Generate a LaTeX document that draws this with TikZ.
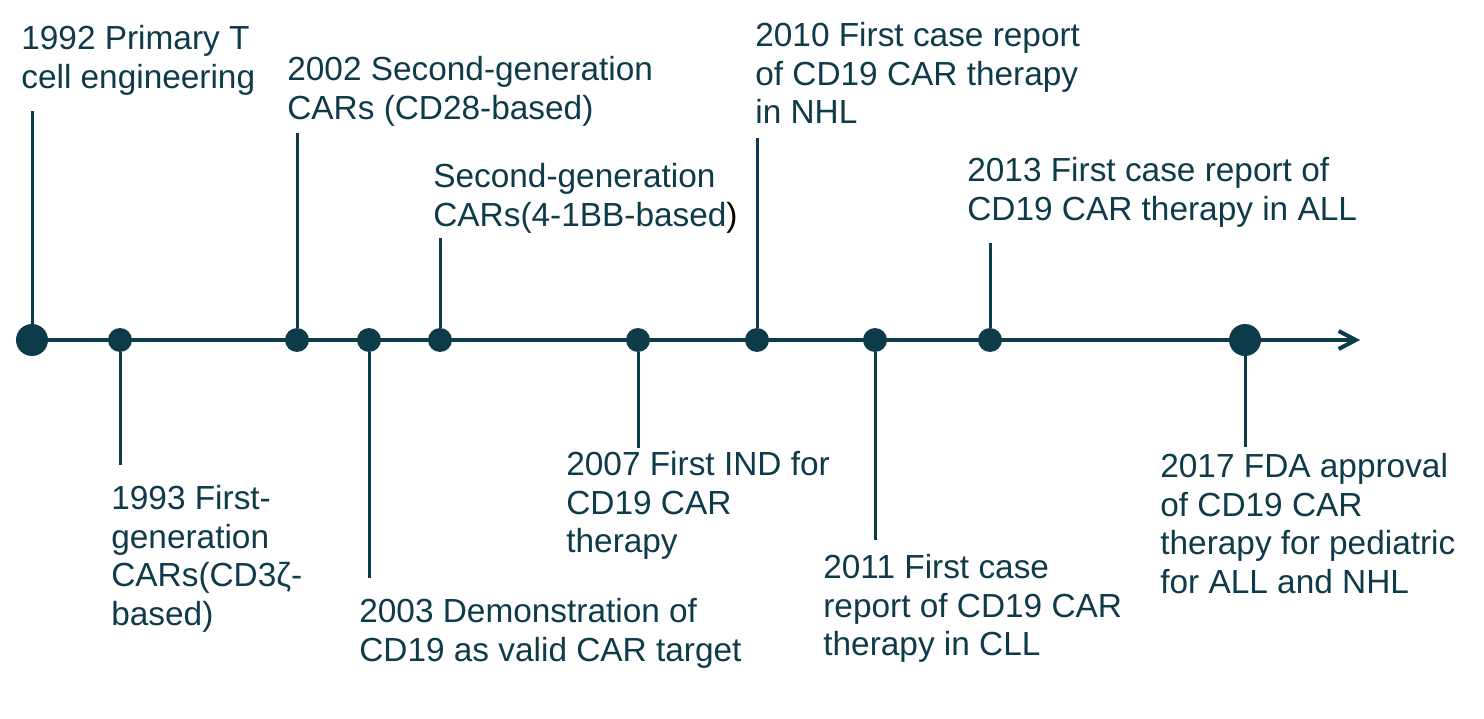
\documentclass[tikz,border=0pt]{standalone}
\usepackage{fontspec}
\setmainfont{Liberation Sans}
\usetikzlibrary{arrows.meta}
\definecolor{tealdark}{HTML}{0E3B4A}
\begin{document}
\begin{tikzpicture}[x=0.02cm,y=-0.02cm,
  dot/.style={circle,fill=tealdark,inner sep=0,minimum size=0.48cm},
  bigdot/.style={dot,minimum size=0.64cm},
  stem/.style={draw=tealdark,line width=0.06cm},
  lbl/.style={anchor=north west,inner sep=0,align=left,text=tealdark,
    font=\fontsize{19}{22}\selectfont}]
\useasboundingbox (0,0) rectangle (1484,719);
\coordinate (a0) at (18,340);
\coordinate (a1) at (1360,340);
\draw[stem,line width=0.08cm,-{Straight Barb[length=3.4mm,width=3.6mm]}] (a0) -- (a1);
% events on the axis
\node[bigdot] (d1) at (32,340) {};
\node[dot] (d2) at (120,340) {};
\node[dot] (d3) at (297,340) {};
\node[dot] (d4) at (369,340) {};
\node[dot] (d5) at (440,340) {};
\node[dot] (d6) at (638,340) {};
\node[dot] (d7) at (757,340) {};
\node[dot] (d8) at (875,340) {};
\node[dot] (d9) at (990,340) {};
\node[bigdot] (d10) at (1245,340) {};
% stems
\coordinate (s1) at (32,111);
\coordinate (s2) at (120,465);
\coordinate (s3) at (297,133);
\coordinate (s4) at (369,578);
\coordinate (s5) at (440,238);
\coordinate (s6) at (638,448);
\coordinate (s7) at (757,138);
\coordinate (s8) at (875,540);
\coordinate (s9) at (990,243);
\coordinate (s10) at (1245,447);
\draw[stem] (d1) -- (s1);
\draw[stem] (d2) -- (s2);
\draw[stem] (d3) -- (s3);
\draw[stem] (d4) -- (s4);
\draw[stem] (d5) -- (s5);
\draw[stem] (d6) -- (s6);
\draw[stem] (d7) -- (s7);
\draw[stem] (d8) -- (s8);
\draw[stem] (d9) -- (s9);
\draw[stem] (d10) -- (s10);
% labels
\node[lbl] (t1) at (21,25) {1992 Primary T\\cell engineering};
\node[lbl] (t2) at (111,485) {1993 First-\\generation\\CARs(CD3ζ-\\based)};
\node[lbl] (t3) at (287,56) {2002 Second-generation\\CARs (CD28-based)};
\node[lbl] (t4) at (359,598) {2003 Demonstration of\\CD19 as valid CAR target};
\node[lbl] (t5) at (433,163) {Second-generation\\CARs(4-1BB-based\textcolor{black}{)}};
\node[lbl] (t6) at (566,451) {2007 First IND for\\CD19 CAR\\therapy};
\node[lbl] (t7) at (755,22) {2010 First case report\\of CD19 CAR therapy\\in NHL};
\node[lbl] (t8) at (823,554) {2011 First case\\report of CD19 CAR\\therapy in CLL};
\node[lbl] (t9) at (967,157) {2013 First case report of\\CD19 CAR therapy in ALL};
\node[lbl] (t10) at (1160,453) {2017 FDA approval\\of CD19 CAR\\therapy for pediatric\\for ALL and NHL};
\end{tikzpicture}
\end{document}
